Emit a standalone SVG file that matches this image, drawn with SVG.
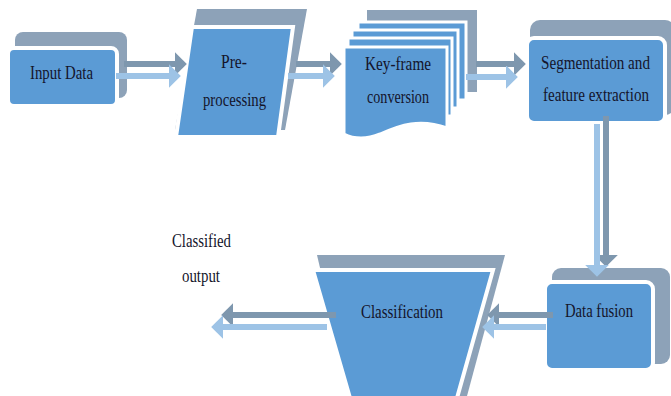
<svg xmlns="http://www.w3.org/2000/svg" width="671" height="396" viewBox="0 0 671 396" font-family="Liberation Serif, DejaVu Serif, Times New Roman, serif">
<defs>
<style>
.back{fill:#8da2b8}
.front{fill:#5b9bd5;stroke:#ffffff;stroke-width:4}
.page{fill:#5b9bd5;stroke:#ffffff;stroke-width:3}
text{font-family:Liberation Serif, DejaVu Serif, Times New Roman, serif;font-size:18px;fill:#14142b}
.dark{stroke:#7e97ae;stroke-width:6;fill:none}
.light{stroke:#9dc3e6;stroke-width:6;fill:none}
</style>
<marker id="hd" markerWidth="4" markerHeight="4" refX="1.2" refY="2" orient="auto" markerUnits="strokeWidth"><path d="M0,0 L2,2 L0,4 Z" fill="#7e97ae"/></marker>
<marker id="hl" markerWidth="4" markerHeight="4" refX="1.2" refY="2" orient="auto" markerUnits="strokeWidth"><path d="M0,0 L2,2 L0,4 Z" fill="#9dc3e6"/></marker>
</defs>
<rect width="671" height="396" fill="#ffffff"/>

<g id="input-data">
<rect class="back" x="15" y="32" width="112" height="66" rx="8"/>
<rect class="front" x="8" y="48" width="109" height="58" rx="6"/>
<text x="30" y="79" textLength="63" lengthAdjust="spacingAndGlyphs">Input Data</text>
</g>

<g id="pre-processing">
<polygon class="back" points="197,9 307,9 285,130 175,130"/>
<polygon class="front" points="192,27 293,27 278,137 176,137"/>
<text x="221" y="68" textLength="26" lengthAdjust="spacingAndGlyphs">Pre-</text>
<text x="203" y="106" textLength="63" lengthAdjust="spacingAndGlyphs">processing</text>
</g>

<g id="key-frame">
<rect class="back" x="367" y="10" width="110" height="82"/>
<rect class="page" x="358" y="22" width="108" height="78"/>
<rect class="page" x="352" y="30" width="106" height="78"/>
<rect class="page" x="348" y="38" width="104" height="78"/>
<path class="page" d="M344,47 L447,47 L447,128 C420,118 400,125 380,134 C365,140 352,138 344,134 Z"/>
<text x="365" y="70" textLength="66" lengthAdjust="spacingAndGlyphs">Key-frame</text>
<text x="367" y="103" textLength="62" lengthAdjust="spacingAndGlyphs">conversion</text>
</g>

<g id="segmentation">
<rect class="back" x="530" y="20" width="145" height="95" rx="10"/>
<rect class="front" x="527" y="38" width="138" height="85" rx="7"/>
<text x="541" y="69" textLength="109" lengthAdjust="spacingAndGlyphs">Segmentation and</text>
<text x="543" y="101" textLength="106" lengthAdjust="spacingAndGlyphs">feature extraction</text>
</g>

<g id="data-fusion">
<rect class="back" x="552" y="268" width="118" height="96" rx="9"/>
<rect class="front" x="545" y="282" width="108" height="88" rx="7"/>
<text x="565" y="317" textLength="68" lengthAdjust="spacingAndGlyphs">Data fusion</text>
</g>

<g id="classification">
<polygon class="back" points="317,255 505,255 467,396 350,396"/>
<polygon class="front" points="313,270 493,270 457,398 350,398"/>
<text x="361" y="318" textLength="82" lengthAdjust="spacingAndGlyphs">Classification</text>
</g>

<g id="classified-output">
<text x="172" y="247" textLength="59" lengthAdjust="spacingAndGlyphs">Classified</text>
<text x="182" y="282" textLength="38" lengthAdjust="spacingAndGlyphs">output</text>
</g>

<g id="connectors">
<line class="dark" x1="124" y1="64" x2="182" y2="64" marker-end="url(#hd)"/>
<line class="light" x1="116" y1="76" x2="176" y2="76" marker-end="url(#hl)"/>
<line class="dark" x1="296" y1="64" x2="337" y2="64" marker-end="url(#hd)"/>
<line class="light" x1="288" y1="76" x2="330" y2="76" marker-end="url(#hl)"/>
<line class="dark" x1="476" y1="64" x2="521" y2="64" marker-end="url(#hd)"/>
<line class="light" x1="466" y1="77" x2="513" y2="77" marker-end="url(#hl)"/>
<line class="dark" x1="606" y1="116" x2="606" y2="262" marker-end="url(#hd)"/>
<line class="light" x1="597" y1="124" x2="597" y2="272" marker-end="url(#hl)"/>
<line class="dark" x1="553" y1="315" x2="492" y2="315" marker-end="url(#hd)"/>
<line class="light" x1="546" y1="327" x2="487" y2="327" marker-end="url(#hl)"/>
<line class="dark" x1="336" y1="315" x2="226" y2="315" marker-end="url(#hd)"/>
<line class="light" x1="327" y1="327" x2="216" y2="327" marker-end="url(#hl)"/>
</g>
</svg>
